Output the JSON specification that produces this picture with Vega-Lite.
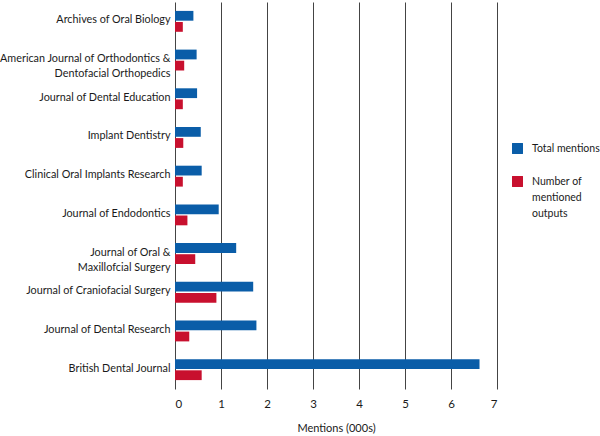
{
  "$schema": "https://vega.github.io/schema/vega-lite/v6.json",
  "autosize": "none",
  "width": 322,
  "height": 387,
  "padding": {"left": 175, "top": 2, "right": 103, "bottom": 47},
  "background": "white",
  "config": {"font": "Lato", "view": {"stroke": null}, "style": {"guide-label": {"lineHeight": 16}}},
  "data": {
    "values": [
      {"journal": "Archives of Oral Biology", "series": "Total mentions", "value": 0.40},
      {"journal": "Archives of Oral Biology", "series": "Number of mentioned outputs", "value": 0.17},
      {"journal": "American Journal of Orthodontics & Dentofacial Orthopedics", "series": "Total mentions", "value": 0.47},
      {"journal": "American Journal of Orthodontics & Dentofacial Orthopedics", "series": "Number of mentioned outputs", "value": 0.20},
      {"journal": "Journal of Dental Education", "series": "Total mentions", "value": 0.48},
      {"journal": "Journal of Dental Education", "series": "Number of mentioned outputs", "value": 0.17},
      {"journal": "Implant Dentistry", "series": "Total mentions", "value": 0.56},
      {"journal": "Implant Dentistry", "series": "Number of mentioned outputs", "value": 0.18},
      {"journal": "Clinical Oral Implants Research", "series": "Total mentions", "value": 0.58},
      {"journal": "Clinical Oral Implants Research", "series": "Number of mentioned outputs", "value": 0.17},
      {"journal": "Journal of Endodontics", "series": "Total mentions", "value": 0.95},
      {"journal": "Journal of Endodontics", "series": "Number of mentioned outputs", "value": 0.27},
      {"journal": "Journal of Oral & Maxillofcial Surgery", "series": "Total mentions", "value": 1.33},
      {"journal": "Journal of Oral & Maxillofcial Surgery", "series": "Number of mentioned outputs", "value": 0.44},
      {"journal": "Journal of Craniofacial Surgery", "series": "Total mentions", "value": 1.70},
      {"journal": "Journal of Craniofacial Surgery", "series": "Number of mentioned outputs", "value": 0.90},
      {"journal": "Journal of Dental Research", "series": "Total mentions", "value": 1.77},
      {"journal": "Journal of Dental Research", "series": "Number of mentioned outputs", "value": 0.31},
      {"journal": "British Dental Journal", "series": "Total mentions", "value": 6.62},
      {"journal": "British Dental Journal", "series": "Number of mentioned outputs", "value": 0.58}
    ]
  },
  "mark": {"type": "bar"},
  "encoding": {
    "y": {
      "field": "journal",
      "type": "nominal",
      "sort": [
        "Archives of Oral Biology",
        "American Journal of Orthodontics & Dentofacial Orthopedics",
        "Journal of Dental Education",
        "Implant Dentistry",
        "Clinical Oral Implants Research",
        "Journal of Endodontics",
        "Journal of Oral & Maxillofcial Surgery",
        "Journal of Craniofacial Surgery",
        "Journal of Dental Research",
        "British Dental Journal"
      ],
      "scale": {"paddingInner": 0.46, "paddingOuter": 0.23},
      "axis": {
        "title": null,
        "domain": false,
        "ticks": false,
        "labelPadding": 5,
        "labelFontSize": 10.8,
        "labelColor": "#1a1a1a",
        "labelLimit": 0,
        "labelLineHeight": 15,
        "labelOffset": -1,
        "labelExpr": "datum.label == 'American Journal of Orthodontics & Dentofacial Orthopedics' ? ['American Journal of Orthodontics &', 'Dentofacial Orthopedics'] : datum.label == 'Journal of Oral & Maxillofcial Surgery' ? ['Journal of Oral &', 'Maxillofcial Surgery'] : datum.label"
      }
    },
    "yOffset": {
      "field": "series",
      "sort": ["Total mentions", "Number of mentioned outputs"],
      "scale": {"paddingInner": 0.12}
    },
    "x": {
      "field": "value",
      "type": "quantitative",
      "scale": {"domain": [0, 7], "nice": false},
      "axis": {
        "title": "Mentions (000s)",
        "values": [0, 1, 2, 3, 4, 5, 6, 7],
        "grid": true,
        "gridColor": "#444444",
        "gridOpacity": 1,
        "gridWidth": 1,
        "domain": false,
        "ticks": false,
        "labelPadding": 9,
        "labelFontSize": 11.5,
        "labelColor": "#1a1a1a",
        "titleFontSize": 11,
        "titleFontWeight": "normal",
        "titleColor": "#1a1a1a",
        "titlePadding": 13
      }
    },
    "color": {
      "field": "series",
      "type": "nominal",
      "scale": {
        "domain": ["Total mentions", "Number of mentioned outputs"],
        "range": ["#0A5DA8", "#C8102E"]
      },
      "legend": {
        "title": null,
        "orient": "none",
        "legendX": 337,
        "legendY": 141,
        "symbolType": "square",
        "symbolSize": 120,
        "symbolStrokeWidth": 0,
        "symbolOpacity": 1,
        "labelFontSize": 10.5,
        "labelColor": "#1a1a1a",
        "labelLimit": 0,
        "labelOffset": 9,
        "rowPadding": 22,
        "labelExpr": "datum.label == 'Number of mentioned outputs' ? ['Number of', 'mentioned', 'outputs'] : datum.label"
      }
    }
  }
}
